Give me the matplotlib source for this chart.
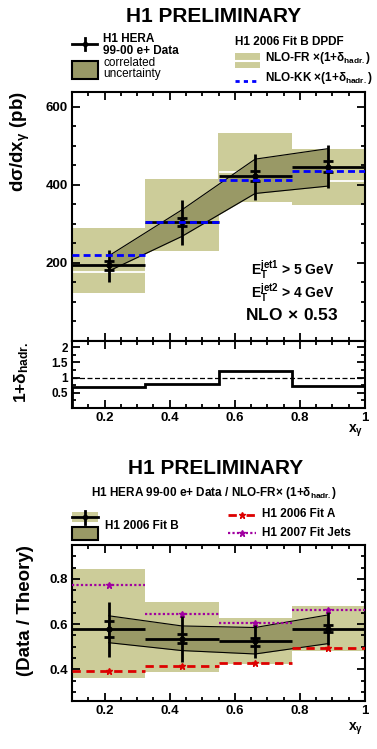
import numpy as np
import matplotlib
matplotlib.use("Agg")
import matplotlib.pyplot as plt
from matplotlib.patches import Rectangle
from matplotlib.ticker import MultipleLocator

plt.rcParams['font.family'] = ['Liberation Sans', 'DejaVu Sans']
plt.rcParams['mathtext.fontset'] = 'custom'
plt.rcParams['mathtext.rm'] = 'Liberation Sans:bold'
plt.rcParams['mathtext.it'] = 'Liberation Sans:bold'
plt.rcParams['mathtext.bf'] = 'Liberation Sans:bold'

# bins in x_gamma
edges = np.array([0.1, 0.325, 0.55, 0.775, 1.0])
xc = np.array([0.2125, 0.4375, 0.6625, 0.8875])

# cross section (pb)
xs_data = np.array([194, 305, 423, 446])
xs_stat = np.array([12, 11, 13, 14])
xs_tot_up = np.array([40, 56, 57, 56])
xs_tot_dn = np.array([42, 60, 61, 53])
xs_corr_hi = np.array([218, 336, 466, 493])
xs_corr_lo = np.array([179, 268, 378, 397])
fr_val = np.array([177, 305, 432, 410])
fr_hi = np.array([290, 416, 532, 493])
fr_lo = np.array([122, 231, 356, 348])
kk_val = np.array([220, 305, 412, 436])

# hadronisation correction
had_corr = np.array([0.70, 0.78, 1.23, 0.72])

# data / theory
r_data = np.array([0.578, 0.533, 0.527, 0.579])
r_stat_up = np.array([0.034, 0.023, 0.011, 0.018])
r_stat_dn = np.array([0.036, 0.017, 0.022, 0.016])
r_tot_up = np.array([0.120, 0.104, 0.070, 0.073])
r_tot_dn = np.array([0.122, 0.099, 0.078, 0.071])
r_corr_hi = np.array([0.637, 0.592, 0.585, 0.641])
r_corr_lo = np.array([0.518, 0.483, 0.468, 0.514])
r_fr_hi = np.array([0.846, 0.698, 0.627, 0.681])
r_fr_lo = np.array([0.360, 0.389, 0.424, 0.483])
r_fitA = np.array([0.392, 0.415, 0.429, 0.496])
r_jets = np.array([0.775, 0.646, 0.604, 0.664])

KHAKI = '#cccc99'
OLIVE = '#999966'
W, H = 377, 749

fig = plt.figure(figsize=(W / 100, H / 100), dpi=100)


def px_axes(left, top, right, bottom):
    return fig.add_axes([left / W, 1 - bottom / H, (right - left) / W, (bottom - top) / H])


def style(ax, xmaj, xmin, ymaj, ymin, xlabels=True):
    ax.tick_params(which='both', direction='in', top=True, right=True, width=1.3,
                   labelsize=9.5, pad=3)
    ax.tick_params(which='major', length=6)
    ax.tick_params(which='minor', length=3)
    ax.xaxis.set_major_locator(MultipleLocator(xmaj))
    ax.xaxis.set_minor_locator(MultipleLocator(xmin))
    ax.yaxis.set_major_locator(MultipleLocator(ymaj))
    ax.yaxis.set_minor_locator(MultipleLocator(ymin))
    for s in ax.spines.values():
        s.set_linewidth(1.5)
    if not xlabels:
        ax.tick_params(labelbottom=False)


def bold_labels(ax):
    for lab in ax.get_xticklabels() + ax.get_yticklabels():
        lab.set_fontweight('bold')


def fmt_x(v, pos):
    return '1' if abs(v - 1) < 1e-6 else '%.1f' % v


def draw_data(ax, y, s_up, s_dn, t_up, t_dn):
    ax.errorbar(xc, y, yerr=[t_dn, t_up], xerr=(edges[1:] - edges[:-1]) / 2,
                fmt='o', color='k', ms=3.5, lw=2, capsize=0, zorder=6)
    ax.errorbar(xc, y, yerr=[s_dn, s_up], fmt='none', ecolor='k', lw=1.2,
                capsize=3.5, capthick=2, zorder=6)


# ---------- top panel ----------
ax1 = px_axes(72, 92, 365, 341)
ax1.bar(xc, fr_hi - fr_lo, bottom=fr_lo, width=edges[1:] - edges[:-1], color=KHAKI, zorder=1)
ax1.hlines(fr_val, edges[:-1], edges[1:], colors='white', lw=1.3, zorder=2)
ax1.fill_between(xc, xs_corr_lo, xs_corr_hi, color=OLIVE, lw=0, zorder=3)
ax1.plot(xc, xs_corr_hi, color='k', lw=0.8, zorder=4)
ax1.plot(xc, xs_corr_lo, color='k', lw=0.8, zorder=4)
draw_data(ax1, xs_data, xs_stat, xs_stat, xs_tot_up, xs_tot_dn)
ax1.hlines(kk_val, edges[:-1], edges[1:], colors='#0000ff', lw=2, linestyles=(0, (2.5, 1.5)), zorder=7)
ax1.set_xlim(0.1, 1.0)
ax1.set_ylim(0, 638)
style(ax1, 0.2, 0.05, 200, 50, xlabels=False)
ax1.set_yticks([200, 400, 600])
bold_labels(ax1)

ax1.text(0.61, 0.285, r'E$_{\rm T}^{\rm jet1}$ > 5 GeV', transform=ax1.transAxes,
         fontsize=10, fontweight='bold', va='center')
ax1.text(0.61, 0.19, r'E$_{\rm T}^{\rm jet2}$ > 4 GeV', transform=ax1.transAxes,
         fontsize=10, fontweight='bold', va='center')
ax1.text(0.59, 0.105, r'NLO$\,\times\,$0.53', transform=ax1.transAxes,
         fontsize=12.5, fontweight='bold', va='center')

# ---------- hadronisation correction ----------
ax2 = px_axes(72, 341, 365, 408)
ax2.stairs(had_corr, edges, color='k', lw=2)
ax2.axhline(1.0, color='k', lw=0.9, ls=(0, (4, 2)))
ax2.set_xlim(0.1, 1.0)
ax2.set_ylim(0, 2.2)
style(ax2, 0.2, 0.05, 0.5, 0.25)
ax2.set_yticks([0.5, 1, 1.5, 2])
ax2.set_yticklabels(['0.5', '1', '1.5', '2'])
ax2.tick_params(axis='y', labelsize=8.5)
ax2.xaxis.set_major_formatter(fmt_x)
bold_labels(ax2)

# ---------- data / theory ----------
ax3 = px_axes(72, 545, 365, 701)
ax3.bar(xc, r_fr_hi - r_fr_lo, bottom=r_fr_lo, width=edges[1:] - edges[:-1], color=KHAKI, zorder=1)
ax3.fill_between(xc, r_corr_lo, r_corr_hi, color=OLIVE, lw=0, zorder=3)
ax3.plot(xc, r_corr_hi, color='k', lw=0.8, zorder=4)
ax3.plot(xc, r_corr_lo, color='k', lw=0.8, zorder=4)
ax3.hlines(r_fitA, edges[:-1], edges[1:], colors='#dd0000', lw=2, linestyles=(0, (3, 2)), zorder=5)
ax3.plot(xc, r_fitA, ls='none', marker='*', ms=5, color='#dd0000', zorder=5)
ax3.hlines(r_jets, edges[:-1], edges[1:], colors='#a000a0', lw=1.6, linestyles=(0, (1, 1)), zorder=5)
ax3.plot(xc, r_jets, ls='none', marker='*', ms=5, color='#a000a0', zorder=5)
draw_data(ax3, r_data, r_stat_up, r_stat_dn, r_tot_up, r_tot_dn)
ax3.set_xlim(0.1, 1.0)
ax3.set_ylim(0.26, 0.95)
style(ax3, 0.2, 0.05, 0.2, 0.05)
ax3.xaxis.set_major_formatter(fmt_x)
ax3.yaxis.set_major_formatter(lambda v, p: '%.1f' % v)
bold_labels(ax3)

# ---------- labels and legends (pixel overlay) ----------
lg = fig.add_axes([0, 0, 1, 1], zorder=10)
lg.set_xlim(0, W)
lg.set_ylim(H, 0)
lg.axis('off')
lg.patch.set_alpha(0)

B = dict(fontweight='bold', va='center')
lg.text(20, 142, r'd$\sigma$/dx$_{\gamma}$ (pb)', rotation=90, ha='center', fontsize=13.5, **B)
lg.text(22, 372, r'1+$\delta_{\rm hadr.}$', rotation=90, ha='center', fontsize=12.5, **B)
lg.text(26, 611, '(Data / Theory)', rotation=90, ha='center', fontsize=13.5, **B)
lg.text(356, 431, r'x$_{\gamma}$', ha='center', fontsize=10, **B)
lg.text(356, 729, r'x$_{\gamma}$', ha='center', fontsize=10, **B)

# top legend
lg.text(214, 16, 'H1 PRELIMINARY', ha='center', fontsize=15, **B)
lg.plot([72, 97], [44, 44], color='k', lw=2)
lg.plot([84.5, 84.5], [38, 50], color='k', lw=2)
lg.plot([84.5], [44], 'ko', ms=3)
lg.text(103, 39, 'H1 HERA', fontsize=8.5, **B)
lg.text(103, 51, '99-00 e+ Data', fontsize=8.5, **B)
lg.add_patch(Rectangle((72, 61), 26, 18, facecolor=OLIVE, edgecolor='k', lw=1.5))
lg.text(103, 63, 'correlated', fontsize=8.5, va='center')
lg.text(103, 74, 'uncertainty', fontsize=8.5, va='center')
lg.text(235, 42, 'H1 2006 Fit B DPDF', fontsize=8.5, **B)
lg.add_patch(Rectangle((235, 53), 25, 15, facecolor=KHAKI, edgecolor='none'))
lg.plot([235, 260], [60.5, 60.5], color='white', lw=1.5)
lg.text(265, 58, r'NLO-FR $\times$(1+$\delta_{\rm hadr.}$)', fontsize=8.5, **B)
lg.plot([235, 258], [81, 81], color='#0000ff', lw=2, ls=(0, (1.5, 1.5)))
lg.text(265, 78, r'NLO-KK $\times$(1+$\delta_{\rm hadr.}$)', fontsize=8.5, **B)

# bottom legend
lg.text(216, 468, 'H1 PRELIMINARY', ha='center', fontsize=15, **B)
lg.text(214, 493, r'H1 HERA 99-00 e+ Data / NLO-FR$\times$ (1+$\delta_{\rm hadr.}$)',
        ha='center', fontsize=8.5, **B)
lg.add_patch(Rectangle((72, 512), 26, 10, facecolor=KHAKI, edgecolor='none'))
lg.plot([72, 98], [517, 517], color='k', lw=2)
lg.plot([85, 85], [511, 524], color='k', lw=2)
lg.plot([85], [517], 'ko', ms=3)
lg.add_patch(Rectangle((72, 527), 26, 13, facecolor=OLIVE, edgecolor='k', lw=1.5))
lg.text(105, 526, 'H1 2006 Fit B', fontsize=8.5, **B)
lg.plot([228, 256], [515, 515], color='#dd0000', lw=2, ls=(0, (3, 3.5)))
lg.plot([242], [515], marker='*', ms=5, color='#dd0000')
lg.text(262, 514, 'H1 2006 Fit A', fontsize=8.5, **B)
lg.plot([228, 256], [533, 533], color='#a000a0', lw=1.6, ls=(0, (1, 1)))
lg.plot([242], [533], marker='*', ms=5, color='#a000a0')
lg.text(262, 533, 'H1 2007 Fit Jets', fontsize=8.5, **B)

fig.savefig('out.png', dpi=100)
